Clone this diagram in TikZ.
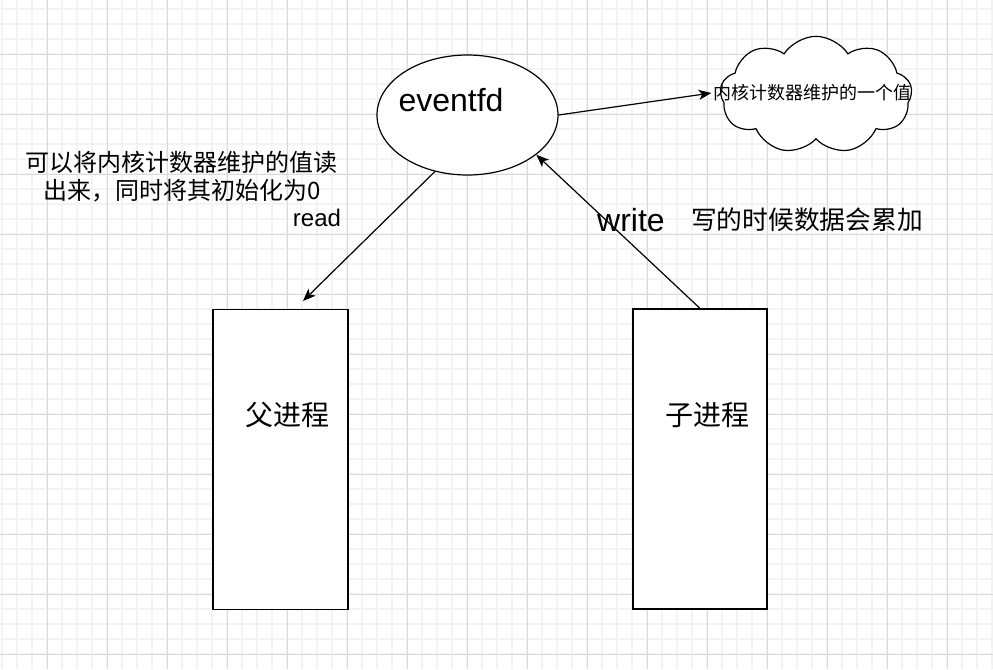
\documentclass[tikz,border=0pt]{standalone}
\usepackage{fontspec}
\setmainfont{Liberation Sans}
\newfontfamily\cjk{Noto Sans CJK SC}
\usetikzlibrary{shapes.geometric,shapes.symbols,arrows.meta}
\definecolor{gridminor}{HTML}{F3F3F3}
\definecolor{gridmajor}{HTML}{DADADA}
\tikzset{
  minorline/.style={draw=gridminor,line width=1.1pt},
  majorline/.style={draw=gridmajor,line width=0.75pt},
  shapeline/.style={draw=black,line width=0.9pt,fill=white},
  arr/.style={draw=black,line width=0.9pt,-{Stealth[length=9.5pt,width=7.5pt,inset=2.5pt]}},
  lbl/.style={inner sep=1pt,text=black},
}
\begin{document}
\begin{tikzpicture}[x=0.75pt,y=-0.75pt]
\useasboundingbox (0,0) rectangle (993,669);
\fill[white] (0,0) rectangle (993,669);
% grid
\foreach \x in {2,17,...,992} \draw[minorline] (\x,0) -- (\x,669);
\foreach \y in {9,24,...,668} \draw[minorline] (0,\y) -- (993,\y);
\foreach \x in {47,107,...,992} \draw[majorline] (\x,0) -- (\x,669);
\foreach \y in {54,114,...,668} \draw[majorline] (0,\y) -- (993,\y);
% shapes
\node[shapeline,ellipse,minimum width=135.75pt,minimum height=90pt,inner sep=0pt] (ev) at (467.5,115) {};
\node[lbl,font=\fontsize{24pt}{28pt}\selectfont] (evtext) at (451,100) {eventfd};
\node[shapeline,cloud,cloud puffs=9,cloud puff arc=115,aspect=1.65,minimum width=144pt,minimum height=88pt,inner sep=0pt] (cl) at (816,95) {};
\node[lbl,font=\cjk\fontsize{13.5pt}{16pt}\selectfont] (cltext) at (812,93) {内核计数器维护的一个值};
\node[shapeline,minimum width=101.25pt,minimum height=225pt,inner sep=0pt] (par) at (280.5,459.5) {};
\node[shapeline,minimum width=100.5pt,minimum height=225pt,inner sep=0pt] (chi) at (700,459) {};
\node[lbl,font=\cjk\fontsize{21pt}{24pt}\selectfont] (partext) at (287,415) {父进程};
\node[lbl,font=\cjk\fontsize{21pt}{24pt}\selectfont] (chitext) at (707,415) {子进程};
% labels
\node[lbl,font=\cjk\fontsize{18pt}{21pt}\selectfont,align=center] (lefttext) at (182,177) {可以将内核计数器维护的值读\\出来，同时将其初始化为0};
\node[lbl,font=\fontsize{18pt}{21pt}\selectfont] (readlbl) at (317,218) {read};
\node[lbl,font=\fontsize{24pt}{28pt}\selectfont] (writelbl) at (631,220) {write};
\node[lbl,font=\cjk\fontsize{19.3pt}{22pt}\selectfont] (writenote) at (807,220) {写的时候数据会累加};
% connectors
\coordinate (readtip) at (303,301);
\draw[arr] (ev.east) -- (cltext.west);
\draw[arr] (ev.240) -- (readtip);
\draw[arr] (chi.north) -- (ev.330);
\end{tikzpicture}
\end{document}
